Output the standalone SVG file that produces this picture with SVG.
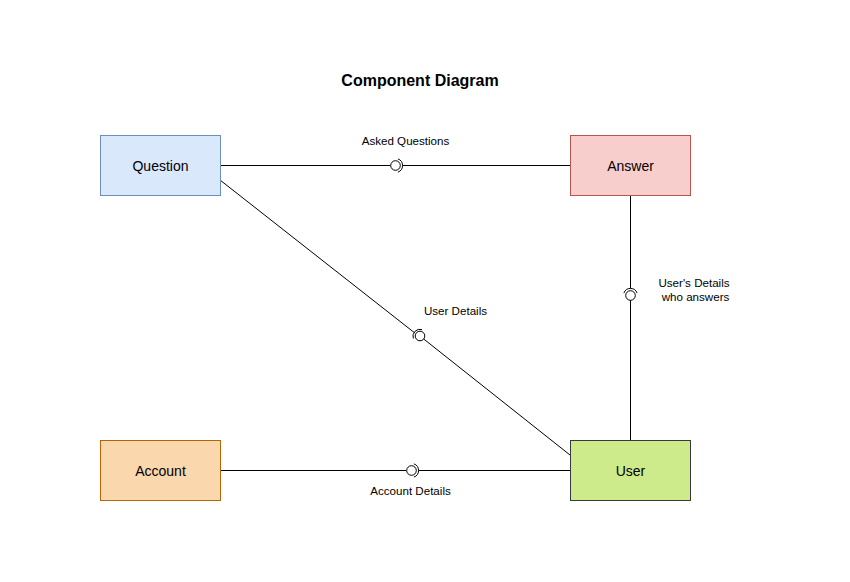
<svg xmlns="http://www.w3.org/2000/svg" width="850" height="582" viewBox="0 0 850 582">
<style>
.node{stroke-width:1}
.nl{font-family:"Liberation Sans",Arial,sans-serif;font-size:14px;fill:#000;text-anchor:middle}
.el{font-family:"Liberation Sans",Arial,sans-serif;font-size:11.6px;fill:#000;text-anchor:middle}
.ln{stroke:#000;stroke-width:1;fill:none}
.ball{stroke:#000;stroke-width:1;fill:#fff}
</style>
<rect width="850" height="582" fill="#fff"/>
<text x="420" y="86" font-family="'Liberation Sans',Arial,sans-serif" font-size="16" font-weight="bold" text-anchor="middle">Component Diagram</text>
<g id="connectors">
  <!-- Question - Answer -->
  <line class="ln" x1="220" y1="165.5" x2="390.5" y2="165.5"/>
  <circle class="ball" cx="395.5" cy="165.5" r="4.8"/>
  <path class="ln" d="M397.9,158.9 A7,7 0 0 1 397.9,172.1"/>
  <line class="ln" x1="402.5" y1="165.5" x2="570" y2="165.5"/>
  <text class="el" x="405.5" y="145">Asked Questions</text>
  <!-- Answer - User -->
  <line class="ln" x1="630.5" y1="195" x2="630.5" y2="288.5"/>
  <path class="ln" d="M623.9,293.1 A7,7 0 0 1 637.1,293.1"/>
  <circle class="ball" cx="630.5" cy="295.5" r="4.8"/>
  <line class="ln" x1="630.5" y1="300.3" x2="630.5" y2="440"/>
  <text class="el" x="694" y="287">User's Details</text>
  <text class="el" x="695.5" y="301">who answers</text>
  <!-- Question - User -->
  <line class="ln" x1="220" y1="180" x2="414.3" y2="332.6"/>
  <path class="ln" d="M413.3,338.5 A7,7 0 0 1 422.0,329.6"/>
  <circle class="ball" cx="420" cy="336" r="4.8"/>
  <line class="ln" x1="423.7" y1="339" x2="570" y2="455"/>
  <text class="el" x="455.5" y="315">User Details</text>
  <!-- Account - User -->
  <line class="ln" x1="220" y1="470.5" x2="406.3" y2="470.5"/>
  <circle class="ball" cx="411.5" cy="470.5" r="4.8"/>
  <path class="ln" d="M413.9,463.9 A7,7 0 0 1 413.9,477.1"/>
  <line class="ln" x1="418.5" y1="470.5" x2="570" y2="470.5"/>
  <text class="el" x="410.5" y="495">Account Details</text>
</g>
<g id="question">
  <rect class="node" x="100.5" y="135.5" width="120" height="60" fill="#dae8fc" stroke="#6c8ebf"/>
  <text class="nl" x="160.5" y="170.5">Question</text>
</g>
<g id="answer">
  <rect class="node" x="570.5" y="135.5" width="120" height="60" fill="#f8cecc" stroke="#b85450"/>
  <text class="nl" x="630.5" y="170.5">Answer</text>
</g>
<g id="account">
  <rect class="node" x="100.5" y="440.5" width="120" height="60" fill="#fad7ac" stroke="#b46504"/>
  <text class="nl" x="160.5" y="475.5">Account</text>
</g>
<g id="user">
  <rect class="node" x="570.5" y="440.5" width="120" height="60" fill="#cdeb8b" stroke="#36393d"/>
  <text class="nl" x="630.5" y="475.5">User</text>
</g>
</svg>
